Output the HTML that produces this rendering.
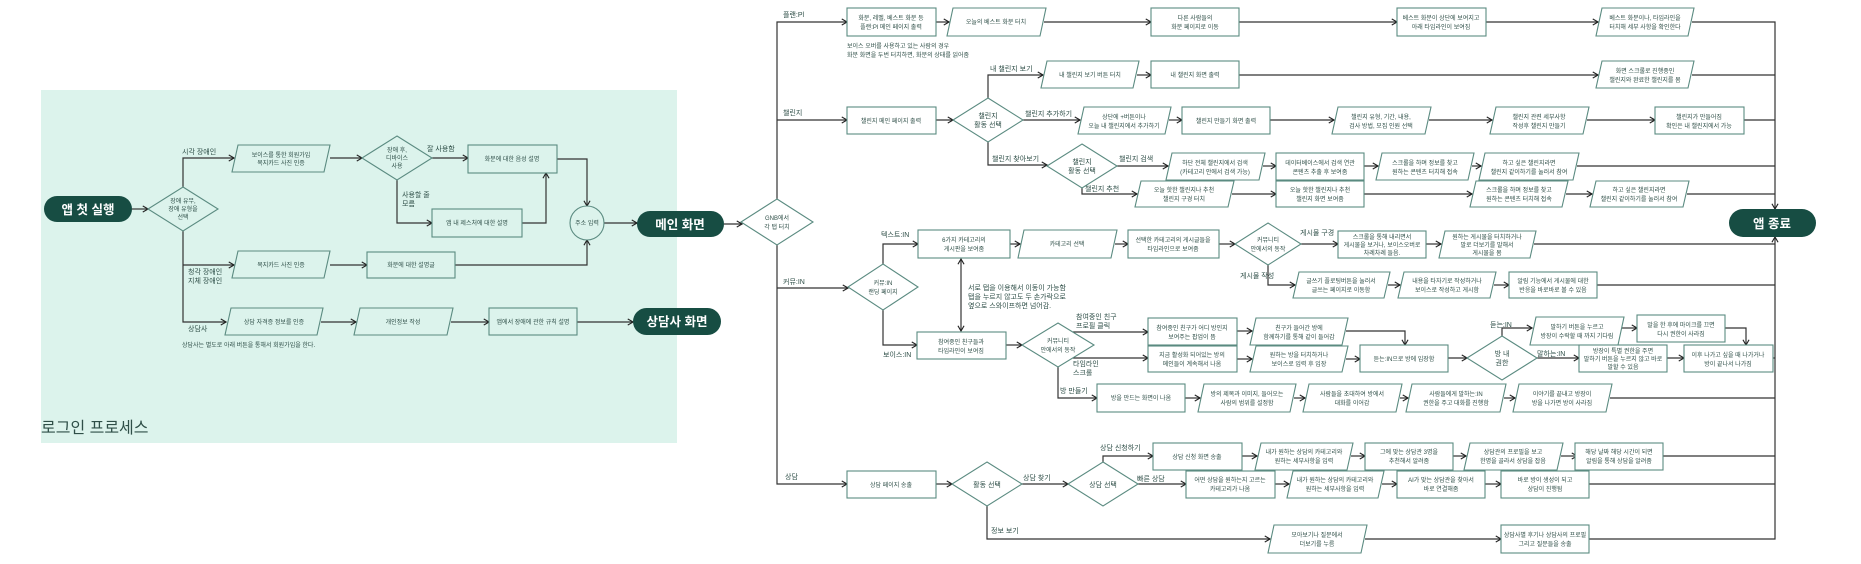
<!DOCTYPE html>
<html><head><meta charset="utf-8">
<style>
html,body{margin:0;padding:0;background:#fff;}
svg{display:block;font-family:"Liberation Sans","Noto Sans CJK KR",sans-serif;}
.b{fill:#fff;stroke:#5b8b81;stroke-width:1.1;}
.g{fill:#dcf3ec;stroke:#5b8b81;stroke-width:1.1;}
.l{fill:none;stroke:#333;stroke-width:1.2;}
.t{font-size:6px;fill:#2f4f48;text-anchor:middle;}
.lb{font-size:7px;fill:#2f4f48;}
.pill{fill:#174d43;}
.pt{font-size:12.5px;font-weight:bold;fill:#fff;text-anchor:middle;}
</style></head><body>
<svg width="1861" height="564" viewBox="0 0 1861 564" xmlns="http://www.w3.org/2000/svg">
<defs>
<marker id="a" viewBox="0 0 8 8" refX="7" refY="4" markerWidth="7" markerHeight="7" orient="auto" markerUnits="userSpaceOnUse">
<path d="M1,0.5 L7,4 L1,7.5" fill="none" stroke="#222" stroke-width="1.3"/></marker>
<marker id="s" viewBox="0 0 8 8" refX="1" refY="4" markerWidth="7" markerHeight="7" orient="auto" markerUnits="userSpaceOnUse">
<path d="M7,0.5 L1,4 L7,7.5" fill="none" stroke="#222" stroke-width="1.3"/></marker>
</defs>

<!-- LOGIN AREA -->
<rect x="41" y="90" width="636" height="353" fill="#dcf3ec"/>
<text x="41" y="433" style="font-size:16px;fill:#2f4f48">로그인 프로세스</text>

<g class="l">
<path d="M132,209 H148" marker-end="url(#a)"/>
<path d="M183,187 V158 H234" marker-end="url(#a)"/>
<path d="M330,158 H362" marker-end="url(#a)"/>
<path d="M432,158 H468" marker-end="url(#a)"/>
<path d="M397,180 V223 H432" marker-end="url(#a)"/>
<path d="M522,223 H546 V173" marker-end="url(#a)"/>
<path d="M557,159 H587 V206" marker-end="url(#a)"/>
<path d="M183,231 V322 H226" marker-end="url(#a)"/>
<path d="M183,265 H234" marker-end="url(#a)"/>
<path d="M330,265 H367" marker-end="url(#a)"/>
<path d="M455,265 H587 V240" marker-end="url(#a)"/>
<path d="M604,223 H637" marker-end="url(#a)"/>
<path d="M321,322 H356" marker-end="url(#a)"/>
<path d="M451,322 H489" marker-end="url(#a)"/>
<path d="M577,322 H633" marker-end="url(#a)"/>
<path d="M724,224 H742" marker-end="url(#a)"/>
</g>

<rect class="pill" x="44" y="196" width="88" height="26" rx="13"/>
<text class="pt" x="88" y="214">앱 첫 실행</text>
<polygon class="g" points="183,187 218,209 183,231 148,209"/>
<text class="t"><tspan x="183" y="203">장애 유무,</tspan><tspan x="183" y="211">장애 유형을</tspan><tspan x="183" y="219">선택</tspan></text>
<polygon class="g" points="238,145 330,145 324,172 232,172"/>
<text class="t"><tspan x="281" y="157">보이스를 통한 회원가입</tspan><tspan x="281" y="165">복지카드 사진 인증</tspan></text>
<polygon class="g" points="238,251 330,251 324,278 232,278"/>
<text class="t" x="281" y="267">복지카드 사진 인증</text>
<polygon class="g" points="231,308 323,308 317,335 225,335"/>
<text class="t" x="274" y="324">상담 자격증 정보를 인증</text>
<polygon class="g" points="397,136 432,158 397,180 362,158"/>
<text class="t"><tspan x="397" y="152">장애 후,</tspan><tspan x="397" y="160">디바이스</tspan><tspan x="397" y="168">사용</tspan></text>
<rect class="g" x="468" y="145" width="89" height="28"/>
<text class="t" x="512" y="161">화분에 대한 음성 설명</text>
<rect class="g" x="432" y="209" width="90" height="28"/>
<text class="t" x="477" y="225">앱 내 제스처에 대한 설명</text>
<rect class="g" x="367" y="252" width="88" height="26"/>
<text class="t" x="411" y="267">화분에 대한 설명글</text>
<circle class="g" cx="587" cy="223" r="17"/>
<text class="t" x="587" y="225">주소 입력</text>
<rect class="pill" x="637" y="211" width="87" height="26" rx="13"/>
<text class="pt" x="680" y="229">메인 화면</text>
<polygon class="g" points="360,308 453,308 447,335 354,335"/>
<text class="t" x="403" y="324">개인정보 작성</text>
<rect class="g" x="489" y="308" width="88" height="27"/>
<text class="t" x="533" y="324">앱에서 장애에 관한 규칙 설명</text>
<rect class="pill" x="633" y="308" width="88" height="27" rx="13.5"/>
<text class="pt" x="677" y="326">상담사 화면</text>

<text class="lb" x="182" y="154">시각 장애인</text>
<text class="lb" x="427" y="151">잘 사용함</text>
<text class="lb"><tspan x="402" y="197">사용할 줄</tspan><tspan x="402" y="206">모름</tspan></text>
<text class="lb"><tspan x="188" y="274">청각 장애인</tspan><tspan x="188" y="283">지체 장애인</tspan></text>
<text class="lb" x="188" y="331">상담사</text>
<text x="182" y="347" style="font-size:6px;fill:#2f4f48">상담사는 별도로 아래 버튼을 통해서 회원가입을 한다.</text>

<!-- MAIN CONNECTORS -->
<g class="l">
<path d="M777,199 V22 H847" marker-end="url(#a)"/>
<path d="M777,245 V484 H847" marker-end="url(#a)"/>
<path d="M777,120 H847" marker-end="url(#a)"/>
<path d="M777,288 H848" marker-end="url(#a)"/>
<!-- plan -->
<path d="M936,22 H949" marker-end="url(#a)"/>
<path d="M1044,22 H1151" marker-end="url(#a)"/>
<path d="M1239,22 H1397" marker-end="url(#a)"/>
<path d="M1486,22 H1598" marker-end="url(#a)"/>
<path d="M1692,22 H1775 V209" marker-end="url(#a)"/>
<!-- challenge -->
<path d="M936,120 H953" marker-end="url(#a)"/>
<path d="M988,98 V75 H1043" marker-end="url(#a)"/>
<path d="M1137,75 H1151" marker-end="url(#a)"/>
<path d="M1239,75 H1598" marker-end="url(#a)"/>
<path d="M1692,75 H1775"/>
<path d="M1023,120 H1080" marker-end="url(#a)"/>
<path d="M1169,120 H1182" marker-end="url(#a)"/>
<path d="M1270,120 H1334" marker-end="url(#a)"/>
<path d="M1429,120 H1492" marker-end="url(#a)"/>
<path d="M1587,120 H1655" marker-end="url(#a)"/>
<path d="M1744,120 H1775"/>
<path d="M988,142 V165 H1047" marker-end="url(#a)"/>
<path d="M1117,166 H1168" marker-end="url(#a)"/>
<path d="M1263,166 H1276" marker-end="url(#a)"/>
<path d="M1364,166 H1378" marker-end="url(#a)"/>
<path d="M1472,166 H1481" marker-end="url(#a)"/>
<path d="M1577,166 H1775"/>
<path d="M1082,188 V194 H1137" marker-end="url(#a)"/>
<path d="M1232,194 H1276" marker-end="url(#a)"/>
<path d="M1364,194 H1472" marker-end="url(#a)"/>
<path d="M1566,194 H1592" marker-end="url(#a)"/>
<path d="M1687,194 H1775"/>
<!-- community -->
<path d="M883,264 V244 H918" marker-end="url(#a)"/>
<path d="M1010,244 H1020" marker-end="url(#a)"/>
<path d="M1115,244 H1128" marker-end="url(#a)"/>
<path d="M1219,244 H1235" marker-end="url(#a)"/>
<path d="M1301,244 H1338" marker-end="url(#a)"/>
<path d="M1426,244 H1441" marker-end="url(#a)"/>
<path d="M1534,244 H1775"/>
<path d="M1268,265 V285 H1295" marker-end="url(#a)"/>
<path d="M1388,285 H1400" marker-end="url(#a)"/>
<path d="M1494,285 H1509" marker-end="url(#a)"/>
<path d="M1597,285 H1775"/>
<path d="M883,310 V345 H917" marker-end="url(#a)"/>
<path d="M961,259 V331" marker-end="url(#a)" marker-start="url(#s)"/>
<path d="M1006,345 H1022" marker-end="url(#a)"/>
<path d="M1073,332 H1148" marker-end="url(#a)"/>
<path d="M1073,358 H1148" marker-end="url(#a)"/>
<path d="M1237,331 H1252" marker-end="url(#a)"/>
<path d="M1237,359 H1252" marker-end="url(#a)"/>
<path d="M1346,331 H1405 V345" marker-end="url(#a)"/>
<path d="M1346,359 H1360" marker-end="url(#a)"/>
<path d="M1448,358 H1467" marker-end="url(#a)"/>
<path d="M1502,336 V328 H1532" marker-end="url(#a)"/>
<path d="M1622,328 H1637" marker-end="url(#a)"/>
<path d="M1725,328 H1746 V345" marker-end="url(#a)"/>
<path d="M1537,358 H1579" marker-end="url(#a)"/>
<path d="M1667,358 H1684" marker-end="url(#a)"/>
<path d="M1773,358 H1775"/>
<path d="M1058,367 V398 H1097" marker-end="url(#a)"/>
<path d="M1185,398 H1200" marker-end="url(#a)"/>
<path d="M1294,398 H1305" marker-end="url(#a)"/>
<path d="M1400,398 H1408" marker-end="url(#a)"/>
<path d="M1504,398 H1515" marker-end="url(#a)"/>
<path d="M1610,398 H1775"/>
<!-- counsel -->
<path d="M936,484 H952" marker-end="url(#a)"/>
<path d="M1022,484 H1068" marker-end="url(#a)"/>
<path d="M1138,484 H1186" marker-end="url(#a)"/>
<path d="M1275,484 H1289" marker-end="url(#a)"/>
<path d="M1382,484 H1397" marker-end="url(#a)"/>
<path d="M1485,484 H1501" marker-end="url(#a)"/>
<path d="M1589,484 H1775"/>
<path d="M1103,462 V456 H1153" marker-end="url(#a)"/>
<path d="M1242,456 H1257" marker-end="url(#a)"/>
<path d="M1351,456 H1365" marker-end="url(#a)"/>
<path d="M1453,456 H1466" marker-end="url(#a)"/>
<path d="M1561,456 H1577" marker-end="url(#a)"/>
<path d="M1663,456 H1775"/>
<path d="M987,506 V539 H1270" marker-end="url(#a)"/>
<path d="M1365,539 H1501" marker-end="url(#a)"/>
<path d="M1589,539 H1775 V237" marker-end="url(#a)"/>
</g>

<!-- GNB -->
<polygon class="b" points="777,199 813,222 777,245 741,222"/>
<text class="t"><tspan x="777" y="220">GNB에서</tspan><tspan x="777" y="229">각 탭 터치</tspan></text>

<!-- PLAN ROW -->
<rect class="b" x="847" y="8" width="89" height="28"/>
<text class="t"><tspan x="891" y="20">화분, 레벨, 베스트 화분 등</tspan><tspan x="891" y="29">플랜:Pl 메인 페이지 출력</tspan></text>
<polygon class="b" points="953,8 1046,8 1040,36 947,36"/>
<text class="t" x="996" y="24">오늘의 베스트 화분 터치</text>
<rect class="b" x="1151" y="8" width="88" height="28"/>
<text class="t"><tspan x="1195" y="20">다른 사람들의</tspan><tspan x="1195" y="29">화분 페이지로 이동</tspan></text>
<rect class="b" x="1397" y="8" width="89" height="28"/>
<text class="t"><tspan x="1441" y="20">베스트 화분이 상단에 보여지고</tspan><tspan x="1441" y="29">아래 타임라인이 보여짐</tspan></text>
<polygon class="b" points="1602,8 1694,8 1688,36 1596,36"/>
<text class="t"><tspan x="1645" y="20">베스트 화분이나, 타임라인을</tspan><tspan x="1645" y="29">터치해 세부 사항을 확인한다</tspan></text>
<text x="847" y="48" style="font-size:6px;fill:#2f4f48">보이스 오버를 사용하고 있는 사람의 경우</text>
<text x="847" y="57" style="font-size:6px;fill:#2f4f48">화분 화면을 두번 터치하면, 화분의 상태를 읽어줌</text>

<!-- CHALLENGE -->
<rect class="b" x="847" y="107" width="89" height="27"/>
<text class="t" x="891" y="123">챌린지 메인 페이지 출력</text>
<polygon class="b" points="988,98 1023,120 988,142 953,120"/>
<text class="t" style="font-size:7px"><tspan x="988" y="118">챌린지</tspan><tspan x="988" y="127">활동 선택</tspan></text>
<polygon class="b" points="1047,61 1139,61 1133,88 1041,88"/>
<text class="t" x="1090" y="77">내 챌린지 보기 버튼 터치</text>
<rect class="b" x="1151" y="61" width="88" height="27"/>
<text class="t" x="1195" y="77">내 챌린지 화면 출력</text>
<polygon class="b" points="1602,61 1694,61 1688,88 1596,88"/>
<text class="t"><tspan x="1645" y="73">화면 스크롤로 진행중인</tspan><tspan x="1645" y="82">챌린지와 완료한 챌린지를 봄</tspan></text>
<polygon class="b" points="1084,107 1171,107 1165,134 1078,134"/>
<text class="t"><tspan x="1124" y="119">상단에 +버튼이나</tspan><tspan x="1124" y="128">오늘 내 챌린지에서 추가하기</tspan></text>
<rect class="b" x="1182" y="107" width="88" height="27"/>
<text class="t" x="1226" y="123">챌린지 만들기 화면 출력</text>
<polygon class="b" points="1338,107 1431,107 1425,134 1332,134"/>
<text class="t"><tspan x="1381" y="119">챌린지 유형, 기간, 내용,</tspan><tspan x="1381" y="128">검사 방법, 모집 인원 선택</tspan></text>
<polygon class="b" points="1496,107 1589,107 1583,134 1490,134"/>
<text class="t"><tspan x="1539" y="119">챌린지 관련 세부사항</tspan><tspan x="1539" y="128">작성후 챌린지 만들기</tspan></text>
<rect class="b" x="1655" y="107" width="89" height="27"/>
<text class="t"><tspan x="1699" y="119">챌린지가 만들어짐</tspan><tspan x="1699" y="128">확인은 내 챌린지에서 가능</tspan></text>
<polygon class="b" points="1082,144 1117,166 1082,188 1047,166"/>
<text class="t" style="font-size:7px"><tspan x="1082" y="164">챌린지</tspan><tspan x="1082" y="173">활동 선택</tspan></text>
<polygon class="b" points="1172,153 1265,153 1259,180 1166,180"/>
<text class="t"><tspan x="1215" y="165">하단 전체 챌린지에서 검색</tspan><tspan x="1215" y="174">(카테고리 안에서 검색 가능)</tspan></text>
<rect class="b" x="1276" y="153" width="88" height="27"/>
<text class="t"><tspan x="1320" y="165">데이터베이스에서 검색 연관</tspan><tspan x="1320" y="174">콘텐츠 추출 후 보여줌</tspan></text>
<polygon class="b" points="1382,153 1474,153 1468,180 1376,180"/>
<text class="t"><tspan x="1425" y="165">스크롤을 하며 정보를 찾고</tspan><tspan x="1425" y="174">원하는 콘텐츠 터치해 접속</tspan></text>
<polygon class="b" points="1485,153 1579,153 1573,180 1479,180"/>
<text class="t"><tspan x="1529" y="165">하고 싶은 챌린지라면</tspan><tspan x="1529" y="174">챌린지 같이하기를 눌러서 참여</tspan></text>
<polygon class="b" points="1141,181 1234,181 1228,207 1135,207"/>
<text class="t"><tspan x="1184" y="192">오늘 핫한 챌린지나 추천</tspan><tspan x="1184" y="201">챌린지 구경 터치</tspan></text>
<rect class="b" x="1276" y="181" width="88" height="26"/>
<text class="t"><tspan x="1320" y="192">오늘 핫한 챌린지나 추천</tspan><tspan x="1320" y="201">챌린지 화면 보여줌</tspan></text>
<polygon class="b" points="1476,181 1568,181 1562,207 1470,207"/>
<text class="t"><tspan x="1519" y="192">스크롤을 하며 정보를 찾고</tspan><tspan x="1519" y="201">원하는 콘텐츠 터치해 접속</tspan></text>
<polygon class="b" points="1596,181 1689,181 1683,207 1590,207"/>
<text class="t"><tspan x="1639" y="192">하고 싶은 챌린지라면</tspan><tspan x="1639" y="201">챌린지 같이하기를 눌러서 참여</tspan></text>

<rect class="pill" x="1729" y="209" width="87" height="28" rx="14"/>
<text class="pt" x="1772" y="228">앱 종료</text>

<!-- COMMUNITY -->
<polygon class="b" points="883,264 918,287 883,310 848,287"/>
<text class="t"><tspan x="883" y="285">커뮤:IN</tspan><tspan x="883" y="294">랜딩 페이지</tspan></text>
<rect class="b" x="918" y="230" width="92" height="28"/>
<text class="t"><tspan x="964" y="242">6가지 카테고리의</tspan><tspan x="964" y="251">게시판을 보여줌</tspan></text>
<polygon class="b" points="1024,230 1117,230 1111,258 1018,258"/>
<text class="t" x="1067" y="246">카테고리 선택</text>
<rect class="b" x="1128" y="230" width="91" height="28"/>
<text class="t"><tspan x="1173" y="242">선택한 카테고리의 게시글들을</tspan><tspan x="1173" y="251">타임라인으로 보여줌</tspan></text>
<polygon class="b" points="1268,223 1301,244 1268,265 1235,244"/>
<text class="t"><tspan x="1268" y="242">커뮤니티</tspan><tspan x="1268" y="251">안에서의 동작</tspan></text>
<rect class="b" x="1338" y="231" width="88" height="27"/>
<text class="t"><tspan x="1382" y="239">스크롤을 통해 내리면서</tspan><tspan x="1382" y="247">게시물을 보거나, 보이스오버로</tspan><tspan x="1382" y="255">차례차례 들음.</tspan></text>
<polygon class="b" points="1445,231 1536,231 1530,258 1439,258"/>
<text class="t"><tspan x="1487" y="239">원하는 게시물을 터치하거나</tspan><tspan x="1487" y="247">말로 더보기를 말해서</tspan><tspan x="1487" y="255">게시물을 봄</tspan></text>
<polygon class="b" points="1299,272 1390,272 1384,298 1293,298"/>
<text class="t"><tspan x="1341" y="283">글쓰기 플로팅버튼을 눌러서</tspan><tspan x="1341" y="292">글쓰는 페이지로 이동함</tspan></text>
<polygon class="b" points="1404,272 1496,272 1490,298 1398,298"/>
<text class="t"><tspan x="1447" y="283">내용을 타자기로 작성하거나</tspan><tspan x="1447" y="292">보이스로 작성하고 게시함</tspan></text>
<rect class="b" x="1509" y="272" width="88" height="26"/>
<text class="t"><tspan x="1553" y="283">알림 기능에서 게시물에 대한</tspan><tspan x="1553" y="292">반응을 바로바로 볼 수 있음</tspan></text>
<rect class="b" x="917" y="332" width="89" height="27"/>
<text class="t"><tspan x="961" y="344">참여중인 친구들과</tspan><tspan x="961" y="353">타임라인이 보여짐</tspan></text>
<polygon class="b" points="1058,323 1094,345 1058,367 1022,345"/>
<text class="t"><tspan x="1058" y="343">커뮤니티</tspan><tspan x="1058" y="352">안에서의 동작</tspan></text>
<rect class="b" x="1148" y="318" width="89" height="27"/>
<text class="t"><tspan x="1192" y="330">참여중인 친구가 어디 방인지</tspan><tspan x="1192" y="339">보여주는 팝업이 뜸</tspan></text>
<rect class="b" x="1148" y="346" width="89" height="26"/>
<text class="t"><tspan x="1192" y="357">지금 활성화 되어있는 방의</tspan><tspan x="1192" y="366">메인들이 계속해서 나옴</tspan></text>
<polygon class="b" points="1256,318 1348,318 1342,345 1250,345"/>
<text class="t"><tspan x="1299" y="330">친구가 들어간 방에</tspan><tspan x="1299" y="339">함께하기를 통해 같이 들어감</tspan></text>
<polygon class="b" points="1256,346 1348,346 1342,372 1250,372"/>
<text class="t"><tspan x="1299" y="357">원하는 방을 터치하거나</tspan><tspan x="1299" y="366">보이스로 입력 후 입장</tspan></text>
<rect class="b" x="1360" y="345" width="88" height="27"/>
<text class="t" x="1404" y="361">듣는:IN으로 방에 입장함</text>
<polygon class="b" points="1502,336 1537,358 1502,380 1467,358"/>
<text class="t" style="font-size:7px"><tspan x="1502" y="356">방 내</tspan><tspan x="1502" y="365">권한</tspan></text>
<polygon class="b" points="1536,317 1624,317 1618,345 1530,345"/>
<text class="t"><tspan x="1577" y="329">말하기 버튼을 누르고</tspan><tspan x="1577" y="338">방장이 수락할 때 까지 기다림</tspan></text>
<rect class="b" x="1637" y="315" width="88" height="27"/>
<text class="t"><tspan x="1681" y="327">말을 한 후에 마이크를 끄면</tspan><tspan x="1681" y="336">다시 권한이 사라짐</tspan></text>
<rect class="b" x="1579" y="345" width="88" height="27"/>
<text class="t"><tspan x="1623" y="353">방장이 특별 권한을 주면</tspan><tspan x="1623" y="361">말하기 버튼을 누르지 않고 바로</tspan><tspan x="1623" y="369">말할 수 있음</tspan></text>
<rect class="b" x="1684" y="345" width="89" height="27"/>
<text class="t"><tspan x="1728" y="357">이후 나가고 싶을 때 나가거나</tspan><tspan x="1728" y="366">방이 끝나서 나가짐</tspan></text>
<rect class="b" x="1097" y="384" width="88" height="28"/>
<text class="t" x="1141" y="400">방을 만드는 화면이 나옴</text>
<polygon class="b" points="1204,384 1296,384 1290,412 1198,412"/>
<text class="t"><tspan x="1247" y="396">방의 제목과 이미지, 들어오는</tspan><tspan x="1247" y="405">사람의 범위를 설정함</tspan></text>
<polygon class="b" points="1309,384 1402,384 1396,412 1303,412"/>
<text class="t"><tspan x="1352" y="396">사람들을 초대하여 방에서</tspan><tspan x="1352" y="405">대화를 이어감</tspan></text>
<polygon class="b" points="1412,384 1506,384 1500,412 1406,412"/>
<text class="t"><tspan x="1456" y="396">사람들에게 말하는:IN</tspan><tspan x="1456" y="405">권한을 주고 대화를 진행함</tspan></text>
<polygon class="b" points="1519,384 1612,384 1606,412 1513,412"/>
<text class="t"><tspan x="1562" y="396">이야기를 끝내고 방장이</tspan><tspan x="1562" y="405">방을 나가면 방이 사라짐</tspan></text>

<!-- COUNSEL -->
<rect class="b" x="847" y="471" width="89" height="27"/>
<text class="t" x="891" y="487">상담 페이지 송출</text>
<polygon class="b" points="987,462 1022,484 987,506 952,484"/>
<text class="t" style="font-size:7px" x="987" y="487">활동 선택</text>
<polygon class="b" points="1103,462 1138,484 1103,506 1068,484"/>
<text class="t" style="font-size:7px" x="1103" y="487">상담 선택</text>
<rect class="b" x="1186" y="471" width="89" height="27"/>
<text class="t"><tspan x="1230" y="482">어떤 상담을 원하는지 고르는</tspan><tspan x="1230" y="491">카테고리가 나옴</tspan></text>
<polygon class="b" points="1293,471 1384,471 1378,498 1287,498"/>
<text class="t"><tspan x="1335" y="482">내가 원하는 상담의 카테고리와</tspan><tspan x="1335" y="491">원하는 세부사항을 입력</tspan></text>
<rect class="b" x="1397" y="471" width="88" height="27"/>
<text class="t"><tspan x="1441" y="482">AI가 맞는 상담관을 찾아서</tspan><tspan x="1441" y="491">바로 연결해줌</tspan></text>
<rect class="b" x="1501" y="471" width="88" height="27"/>
<text class="t"><tspan x="1545" y="482">바로 방이 생성이 되고</tspan><tspan x="1545" y="491">상담이 진행됨</tspan></text>
<rect class="b" x="1153" y="443" width="89" height="27"/>
<text class="t" x="1197" y="459">상담 신청 화면 송출</text>
<polygon class="b" points="1261,443 1353,443 1347,470 1255,470"/>
<text class="t"><tspan x="1304" y="454">내가 원하는 상담의 카테고리와</tspan><tspan x="1304" y="463">원하는 세부사항을 입력</tspan></text>
<rect class="b" x="1365" y="443" width="88" height="27"/>
<text class="t"><tspan x="1409" y="454">그에 맞는 상담관 3명을</tspan><tspan x="1409" y="463">추천해서 알려줌</tspan></text>
<polygon class="b" points="1470,443 1563,443 1557,470 1464,470"/>
<text class="t"><tspan x="1513" y="454">상담관의 프로필을 보고</tspan><tspan x="1513" y="463">한명을 골라서 상담을 잡음</tspan></text>
<rect class="b" x="1575" y="443" width="88" height="27"/>
<text class="t"><tspan x="1619" y="454">해당 날짜 해당 시간이 되면</tspan><tspan x="1619" y="463">알림을 통해 상담을 알려줌</tspan></text>
<polygon class="b" points="1274,525 1367,525 1361,553 1268,553"/>
<text class="t"><tspan x="1317" y="537">모아보기나 질문에서</tspan><tspan x="1317" y="546">더보기를 누름</tspan></text>
<rect class="b" x="1501" y="525" width="88" height="28"/>
<text class="t"><tspan x="1545" y="537">상담사별 후기나 상담사의 프로필</tspan><tspan x="1545" y="546">그리고 질문들을 송출</tspan></text>

<!-- CONNECTOR LABELS -->
<text class="lb" x="783" y="17">플랜:Pl</text>
<text class="lb" x="783" y="115">챌린지</text>
<text class="lb" x="783" y="284">커뮤:IN</text>
<text class="lb" x="785" y="479">상담</text>
<text class="lb" x="990" y="71">내 챌린지 보기</text>
<text class="lb" x="1025" y="116">챌린지 추가하기</text>
<text class="lb" x="992" y="161">챌린지 찾아보기</text>
<text class="lb" x="1119" y="161">챌린지 검색</text>
<text class="lb" x="1085" y="191">챌린지 추천</text>
<text class="lb" x="881" y="237">텍스트:IN</text>
<text class="lb" x="883" y="357">보이스:IN</text>
<text class="lb" x="1300" y="235">게시물 구경</text>
<text class="lb" x="1240" y="278">게시물 작성</text>
<text class="lb"><tspan x="1076" y="319">참여중인 친구</tspan><tspan x="1076" y="328">프로필 클릭</tspan></text>
<text class="lb"><tspan x="1073" y="366">타임라인</tspan><tspan x="1073" y="375">스크롤</tspan></text>
<text class="lb" x="1060" y="393">방 만들기</text>
<text class="lb" x="1490" y="327">듣는:IN</text>
<text class="lb" x="1537" y="356">말하는:IN</text>
<text class="lb" x="1023" y="480">상담 찾기</text>
<text class="lb" x="1137" y="481">빠른 상담</text>
<text class="lb" x="1100" y="450">상담 신청하기</text>
<text class="lb" x="991" y="533">정보 보기</text>
<text class="lb"><tspan x="968" y="290">서로 탭을 이용해서 이동이 가능함</tspan><tspan x="968" y="299">탭을 누르지 않고도 두 손가락으로</tspan><tspan x="968" y="308">옆으로 스와이프하면 넘어감.</tspan></text>
</svg>
</body></html>
